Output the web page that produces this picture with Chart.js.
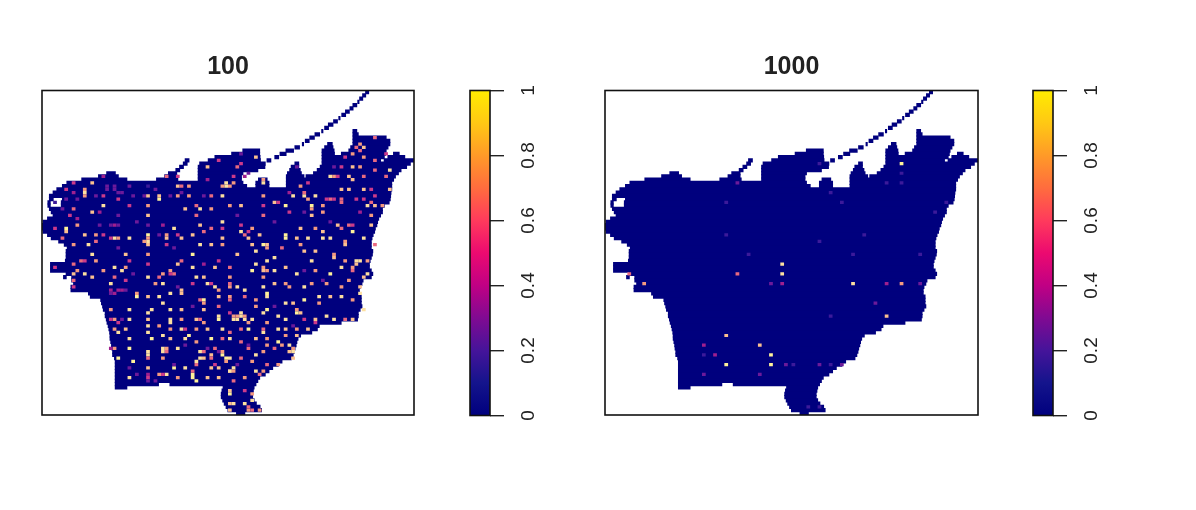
<!DOCTYPE html>
<html>
<head>
<meta charset="utf-8">
<title>100 / 1000</title>
<script src="https://cdn.jsdelivr.net/npm/chart.js@4"></script>
<style>
    body { margin: 0; background: #fff; }
    canvas { position: absolute; top: 0; }
</style>
</head>
<body>
<canvas id="map100" width="440" height="510" style="left:0"></canvas>
<canvas id="bar100" width="100" height="510" style="left:440px"></canvas>
<canvas id="map1000" width="440" height="510" style="left:563px"></canvas>
<canvas id="bar1000" width="100" height="510" style="left:1003px"></canvas>
<script>
//===============================================================
// ============================ DATA ============================
//===============================================================
const panelTitles = ["100", "1000"];
const barTicks = [0, 0.2, 0.4, 0.6, 0.8, 1];
const rampStops = [0, 0.1, 0.2, 0.3, 0.4, 0.5, 0.6, 0.7, 0.8, 0.9, 1];
const rampColors = ["#00007e", "#14148c", "#45149a", "#800a92", "#c00084", "#ec0a70", "#ff3a5c", "#ff6c3e", "#ff9a28", "#ffc814", "#ffec00"];
// the small cells look paler than the ramp in the picture
const cellColors = ["#00007e", "#1c1c90", "#3c1a9a", "#6c1a9a", "#a0208f", "#cc3a8a", "#e86a80", "#f49a80", "#fbc090", "#fde0a0", "#fff29a"];

// land spans per raster row, top to bottom, [from column, to column]
const landRows = [
    [[87,87.8]], [[86.2,87]], [[85.4,86.2]], [[84.9,85.2]], [[83.6,84.6]], [[82.8,83.6]], [[81.6,82.6]], [[80.6,81.6]], [[79.8,80.1]], [[78.4,79.4]],
    [[77,78.2]], [[76,77]], [[75.2,75.5],[83.6,84.6]], [[73.4,74.6],[83.6,85]], [[72,73.2],[83.6,92.5]], [[70.8,71.8],[83.6,93.5]],
    [[70,70.3],[76.8,78],[83.6,93.5]], [[68,69.2],[76,78.2],[83,93]], [[54,58.5],[65.6,67.6],[75.3,78.5],[82.5,92.5]],
    [[51,58.5],[64,65.6],[75.3,78.6],[80.5,92.3],[94.5,96]], [[46.5,58.6],[62.6,63.6],[75.3,92],[93,97.5]],
    [[38.5,39.5],[44.7,58.7],[60.5,61.5],[75.3,91],[92,100]], [[38,39],[42.4,60],[68,69],[75.3,99]], [[37,38],[42,59.9],[67,69],[74.8,98]],
    [[36,37],[42,58],[66.6,69.4],[74,96.5]], [[17.4,19.7],[34,36.2],[42,54],[66,69.7],[73,95.8]],
    [[15.2,20.5],[33,36.2],[42,53.6],[65.7,70.4],[71,95]], [[10.7,22.8],[30.8,36.5],[42,53.6],[58.2,60.5],[65.7,94.5]],
    [[6.7,54],[57.5,61],[65.7,94]], [[5.5,55],[57.5,61],[65.7,94]], [[4,94]], [[3,93.8]], [[2,93.7]], [[2,3],[5.5,93.6]],
    [[1.6,2.2],[5.2,93.3]], [[1.6,2.2],[5.2,92]], [[2,91.5]], [[2.5,91.5]], [[3,91]], [[1.5,90.5]], [[0.3,90.2]], [[0,90]], [[0,89.6]],
    [[0.3,89.4]], [[1.5,89]], [[2.5,88.7]], [[4.5,88.5]], [[6,88.5]], [[6.8,88.5]], [[6.5,88.9]], [[6.5,88.8]], [[6.5,88.5]], [[6.3,88.2]],
    [[2.3,88]], [[2.3,88]], [[2.3,88.5]], [[6.5,88.9]], [[5.8,6.5],[8,88.5]], [[8,86.3]], [[8.5,86]], [[7.8,85.5]], [[7.8,85.3]], [[12.5,85.3]],
    [[13,85.8]], [[15.8,85.8]], [[16,85.8]], [[16.3,86]], [[16.5,85.5]], [[17,85]], [[17,85]], [[17.3,84.8]], [[17.5,80.4]], [[17.8,74.5]],
    [[18,74]], [[18.2,72.5]], [[18.3,69.5]], [[18.3,68.8]], [[18.5,68.5]], [[18.7,68.3]], [[18.8,68]], [[19,67.8]], [[19,67.5]], [[19.5,67]],
    [[19.7,64.5]], [[19.7,63.5]], [[19.7,62]], [[19.7,61]], [[19.7,60]], [[19.7,58.5]], [[19.7,58]], [[19.7,31.3],[34.4,57.5]],
    [[19.7,22.8],[48.7,57]], [[48.4,56.8]], [[48.2,56.6]], [[48.2,56.6]], [[48.6,57]], [[49,57.6]], [[49.5,58.6]], [[50,59]], [[52.3,54.5]]
];

// non zero cells [row, column, value]
const cells100 = [
    [23,44,.8],[21,47,.5],[26,33,.6],[26,36,.5],[26,16,.4],[28,13,.8],[28,8,.5],[29,28,.2],[29,23,.3],[29,36,.8],[29,39,.7],[27,44,.4],[29,49,.9],
    [31,11,.9],[30,6,.5],[31,8,.4],[32,16,.5],[33,20,.5],[32,27,.3],[32,28,.8],[33,31,1],[32,34,.3],[32,36,.7],[32,39,.7],[32,43,.3],[32,45,.6],[32,48,.9],
    [34,3,.15],[36,8,.6],[36,5,.3],[35,16,.9],[35,23,.5],[35,28,.7],[36,38,.8],[35,41,.6],[36,42,.9],[36,45,.7],[37,13,.8],[37,15,.4],[38,7,.5],[39,9,.4],[38,28,.8],[38,41,.6],[40,48,.9],
    [42,6,1],[41,19,.4],[41,9,.7],[41,32,.4],[42,35,.9],[41,42,.8],[42,45,.6],[42,48,.5],[42,3,.5],
    [45,5,.6],[44,11,.8],[44,14,.7],[44,16,.5],[45,19,.9],[45,20,.7],[45,23,.9],[44,28,1],[44,33,.7],[45,33,.8],[45,37,.8],[44,40,.8],[43,43,.6],[45,48,.8],[46,28,.9],
    [47,8,.7],[47,12,.9],[46,14,.6],[47,28,.8],[47,42,.9],[47,45,.8],[47,48,.7],[47,33,.5],
    [14,89,.6],[16,85,.7],[17,86,.8],[19,83,.7],[20,86,.7],[21,89,.6],[19,92,.5],[20,81,.5],[23,78,.3],[23,68,.3],[23,83,.8],[23,85,.7],[23,80,.5],[24,93,.9],[26,92,.6],[24,89,.6],
    [26,77,.9],[26,79,.5],[26,82,.8],[26,86,.6],[27,83,.8],[27,59,.7],[28,59,.9],[26,54,.4],[26,51,.5],[28,49,.9],[28,51,.7],[23,52,.6],[22,53,.5],[20,57,.8],[19,53,.3],
    [29,69,.7],[28,71,.5],[30,80,.8],[30,82,.8],[30,86,.8],[30,88,.5],[30,93,.8],[32,73,.9],[32,70,.9],[32,67,.9],[32,59,.7],[34,62,.8],[33,77,.6],[33,80,.6],[33,84,.5],[33,86,.5],[32,89,.5],
    [35,50,.7],[35,53,.8],[35,59,.5],[35,65,1],[35,72,1],[35,75,.7],[34,80,.6],[35,87,.9],[35,89,.8],[35,91,.7],
    [38,59,.6],[37,66,.5],[38,72,.8],[37,75,.7],[36,72,.7],[37,85,.4],[38,88,.7],
    [41,53,.5],[42,56,.7],[43,53,.9],[42,69,.8],[42,73,.7],[43,75,.8],[41,79,.8],[42,80,.6],[43,83,1],[41,83,.5],[41,88,.8],[44,58,.8],
    [44,65,1],[45,65,1],[45,68,.8],[45,55,.8],[45,71,.9],[45,75,.9],[45,77,.9],[47,81,.8],[46,81,.7],[45,86,.9],[47,59,1],[47,60,.8],[47,56,.8],[48,64,.6],[47,89,.6],[47,69,.7],
    [50,13,.9],[50,22,.8],[50,28,.7],[50,40,1],[52,47,.5],[54,3,.5],[53,8,.6],[52,10,.6],[54,19,.9],[54,22,.7],[52,23,.5],[52,14,.7],[53,28,.5],[53,36,.8],[52,37,.6],[54,46,.8],[54,40,.9],[53,43,.4],[54,50,.6],
    [56,8,.8],[55,9,.7],[56,11,.9],[55,16,.7],[55,21,.9],[56,32,.7],[57,31,.6],[55,34,.7],[57,41,.9],[57,43,.8],[57,28,.9],[57,19,.6],[58,8,.6],[57,13,.8],[57,50,.7],
    [59,18,.9],[58,22,.5],[59,32,.9],[59,30,.7],[60,8,.5],[62,34,.9],[62,25,.7],[61,37,.8],[59,40,.5],[59,44,.9],[60,46,.9],[59,50,.6],[61,20,.4],
    [63,25,1],[63,28,.8],[63,31,.9],[62,37,.8],[64,43,1],[63,47,.8],[63,50,.7],[65,32,.9],
    [67,18,.7],[67,23,.9],[67,29,.9],[68,28,.9],[67,34,.9],[67,37,.8],[67,43,.8],[66,47,.6],[69,47,.9],[68,50,.5],
    [70,19,.7],[70,23,.9],[70,28,.8],[70,34,.9],[71,34,.9],[70,37,.7],[70,41,.8],[71,43,.7],[70,47,1],[71,20,.5],
    [73,19,.7],[73,22,.8],[72,28,.9],[72,31,.7],[74,28,.9],[74,20,.9],[73,37,.9],[73,41,.7],[73,44,.8],[73,48,.9],[73,34,.7],
    [76,23,.9],[76,29,1],[75,32,.9],[76,34,.8],[75,39,1],[76,38,.9],[76,45,1],[76,48,.6],[77,41,.7],
    [79,23,1],[79,19,.7],[80,28,.9],[79,32,.9],[79,33,.7],[80,32,.9],[79,36,.9],[80,42,.9],[81,48,1],[82,50,.9],[79,46,.6],
    [82,20,1],[83,24,1],[81,28,.9],[85,28,.8],[82,32,.7],[82,42,.9],[82,43,.8],[81,45,.8],[83,41,.9],[85,38,.9],[85,35,1],[85,47,.8],[85,45,.8],[86,50,.7],
    [88,23,.9],[88,28,.5],[87,33,.9],[87,31,.7],[87,40,1],[88,40,1],[89,41,1],[88,44,.8],[88,47,.8],[88,36,.7],[93,50,1],[96,50,.8],[89,28,.3],[89,30,.3],
    [50,52,.8],[49,57,.9],[51,62,.9],[49,70,.8],[49,73,.8],[51,78,.8],[52,84,.9],[52,85,.9],[52,81,.7],[52,72,.9],[52,87,.7],[52,60,.9],
    [55,56,1],[55,59,.8],[53,57,.9],[55,62,.9],[56,68,.9],[55,73,.7],[56,77,1],[54,80,.9],[54,83,.7],[56,87,.9],[57,86,.8],[54,65,.8],
    [60,50,.7],[60,52,.9],[57,59,.7],[59,62,.8],[59,65,.7],[60,70,.9],[59,72,.7],[59,76,.7],[60,80,.7],[58,82,.7],[60,85,.8],[61,54,.9],[60,59,.9],[60,66,.7],
    [64,70,1],[62,60,1],[63,60,.9],[65,67,.8],[64,57,.7],[63,74,.9],[63,77,.8],[63,80,.9],[64,83,.7],[65,65,.9],[64,50,.6],[62,85,.9],[63,54,.6],
    [69,53,.9],[70,52,.9],[68,53,.9],[66,57,.7],[67,60,1],[68,59,.9],[70,54,.9],[69,63,.9],[70,65,.9],[68,68,1],[70,70,.5],[70,73,.8],[69,76,.9],[70,78,.9],[65,74,.7],[70,81,.6],[70,83,.8],[67,86,.9],[70,51,.9],[70,56,.9],
    [73,55,1],[74,59,.9],[73,63,.9],[73,65,.8],[73,68,.7],[73,71,.8],[71,73,.5],[74,50,.6],[71,60,.7],[73,53,.6],
    [76,50,.9],[77,53,.6],[76,57,.8],[76,60,.7],[77,63,1],[75,65,.7],[75,68,.8],[78,60,.7],[78,66,.9],
    [82,49,1],[81,57,.9],[80,59,.7],[79,62,.6],[80,66,.8],[80,67,.9],[82,53,.6],[82,67,.8],[79,55,.6],
    [86,50,.9],[85,51,.9],[86,57,.9],[84,60,.6],[84,63,.7],[88,54,.7],[86,59,.7],[83,56,.7],
    [92,50,.8],[92,54,.5],[93,56,.7],[96,51,.9],[96,54,.9],[95,56,.9],[98,58,.7],[98,50,.8],[98,55,.7],[89,51,.6],
    [29,19,.3],[31,20,.3],[29,17,.3],[32,14,.3],[62,18,.3],[61,22,.3],[70,21,.3],[85,23,.3],[80,47,.3],[79,44,.3],[38,20,.3],[40,25,.3],[38,52,.3],[40,62,.3],[37,70,.3],[40,77,.3],
    [55,70,.3],[58,75,.3],[66,62,.3],[72,67,.3],[78,55,.3],[84,52,.3],[48,20,.3],[48,35,.3],[56,24,.3],[60,36,.3],[66,40,.3],[78,38,.3],[84,35,.3],[87,25,.3],[30,30,.3],[25,55,.3],
    [52,11,.5],[62,19,.4],[61,18,.4],[61,21,.4],[70,18,.5],[73,38,.5],[56,34,.5],[56,35,.6],[59,45,.5],[61,47,.7],[65,43,.7],[64,42,.6],[70,42,.6],[80,33,.6],[80,43,.6],[86,40,.6],
    [87,32,.5],[87,28,.4],[79,18,.4],[82,28,.6],[82,45,.6],[83,49,.7],[80,48,.7],[84,46,.5],[84,41,.6],
    [69,51,.7],[69,52,.7],[69,54,.7],[71,55,.7],[54,59,.7],[55,60,.7],[50,78,.7],[53,84,.8],[55,83,.6],[67,68,.7],[68,69,.8],[73,59,.6],[78,64,.7],[79,67,.7],[86,51,.7],[87,58,.6],[97,55,.6],[98,56,.6],
    [17,84,.6],[18,85,.6],[26,78,.7],[33,71,.7],[31,70,.6],[33,76,.5],[33,78,.5],[43,55,.5],[44,54,.6],[48,60,.7],[41,82,.6],[31,66,.4],[34,63,.5],[34,88,.6],
    [32,11,.7],[30,11,.7],[32,31,.8],[29,37,.6],[29,48,.7],[29,50,.7],[44,36,.5],[45,18,.5],[45,28,.7],[46,27,.7],[43,6,.8],
    [30,19,.3],[31,21,.3],[30,17,.3],[32,24,.3],[41,28,.3],[41,18,.3],[41,20,.3],[41,15,.3],[44,31,.3],[31,37,.3],[33,9,.3],[33,6,.3]
];
const cells1000 = [
    [53,47,.9],[56,47,.9],[59,47,.4],[56,35,.6],[59,44,.25],[59,66,.9],[59,75,.35],[59,79,.7],[59,84,.25],[59,10,.7],[56,6,.6],[50,38,.2],[50,66,.2],[50,84,.2],
    [65,72,.3],[69,75,.8],[69,60,.2],[75,32,.8],[78,41,.8],[81,44,1],[84,44,1],[84,32,1],[78,26,.35],[81,29,.4],[81,26,.2],[87,26,.3],[87,41,.3],
    [84,48,.25],[84,50,.2],[84,57,.25],[84,60,.2],[84,63,.25],[97,54,.15],[97,57,.15],[28,35,.3],[34,32,.2],[44,32,.2],
    [22,79,1],[28,75,.15],[28,79,.15],[25,79,.15],[31,60,.15],[34,63,.15],[44,69,.15],[46,57,.15],[37,88,.15],[34,91,.15],[22,57,.15]
];

//===============================================================
// ========================== FUNCTIONS =========================
//===============================================================
function cellColor(value) {
    return cellColors[Math.round(value * 10)];
}

const boxPlugin = {
    id: "box",
    afterDraw(chart) {
        const { ctx, chartArea: a } = chart;
        ctx.save();
        ctx.strokeStyle = "#111";
        ctx.lineWidth = 1.6;
        ctx.strokeRect(a.left, a.top, a.right - a.left, a.bottom - a.top);
        ctx.restore();
    }
};

function drawMap(id, title, cells, rightPadding) {
    const land = [];
    landRows.forEach((spans, row) => spans.forEach(s => land.push({ x: s, y: row })));
    new Chart(document.getElementById(id), {
        type: "bar",
        plugins: [boxPlugin],
        data: {
            labels: landRows.map((_, row) => row),
            datasets: [
                {
                    data: cells.map(c => ({ x: [c[1], c[1] + 1], y: c[0] })),
                    backgroundColor: cells.map(c => cellColor(c[2])),
                    inflateAmount: 0,
                    grouped: false, barPercentage: 1, categoryPercentage: 1
                },
                {
                    data: land,
                    backgroundColor: rampColors[0],
                    inflateAmount: 0.5,
                    grouped: false, barPercentage: 1, categoryPercentage: 1
                }
            ]
        },
        options: {
            indexAxis: "y",
            responsive: false,
            animation: false,
            layout: { padding: { left: 42, right: rightPadding, top: 50.5, bottom: 95 } },
            scales: {
                x: { display: false, min: 0, max: 100 },
                y: { display: false }
            },
            plugins: {
                legend: { display: false },
                tooltip: { enabled: false },
                title: {
                    display: true,
                    text: title,
                    color: "#222",
                    font: { family: "Liberation Sans", size: 25, weight: "bold", lineHeight: 1.2 },
                    padding: { top: 1.5, bottom: 8.5 }
                }
            }
        }
    });
}

function drawColorBar(id) {
    new Chart(document.getElementById(id), {
        type: "bar",
        plugins: [boxPlugin],
        data: {
            labels: ["ramp"],
            datasets: [{
                data: [[barTicks[0], barTicks[barTicks.length - 1]]],
                barPercentage: 1,
                categoryPercentage: 1,
                backgroundColor(context) {
                    const { ctx, chartArea } = context.chart;
                    if (!chartArea) return rampColors[0];
                    const gradient = ctx.createLinearGradient(0, chartArea.bottom, 0, chartArea.top);
                    rampStops.forEach((stop, i) => gradient.addColorStop(stop, rampColors[i]));
                    return gradient;
                }
            }]
        },
        options: {
            responsive: false,
            animation: false,
            layout: { padding: { left: 30, right: 0, top: 90.5, bottom: 94.5 } },
            scales: {
                x: { display: false },
                y: {
                    position: "right",
                    min: 0,
                    max: 1,
                    afterFit(scale) { scale.width = 50; },
                    afterBuildTicks(scale) { scale.ticks = barTicks.map(value => ({ value })); },
                    border: { display: false },
                    grid: { drawOnChartArea: false, drawTicks: true, tickLength: 14, color: "#222", lineWidth: 1.4 },
                    ticks: {
                        minRotation: 90,
                        crossAlign: "center",
                        padding: 12,
                        color: "#222",
                        font: { family: "Liberation Sans", size: 19 },
                        callback: value => String(value)
                    }
                }
            },
            plugins: { legend: { display: false }, tooltip: { enabled: false } }
        }
    });
}

//===============================================================
// ============================ CHARTS ==========================
//===============================================================
drawMap("map100", panelTitles[0], cells100, 26);
drawColorBar("bar100");
drawMap("map1000", panelTitles[1], cells1000, 25);
drawColorBar("bar1000");
</script>
</body>
</html>
